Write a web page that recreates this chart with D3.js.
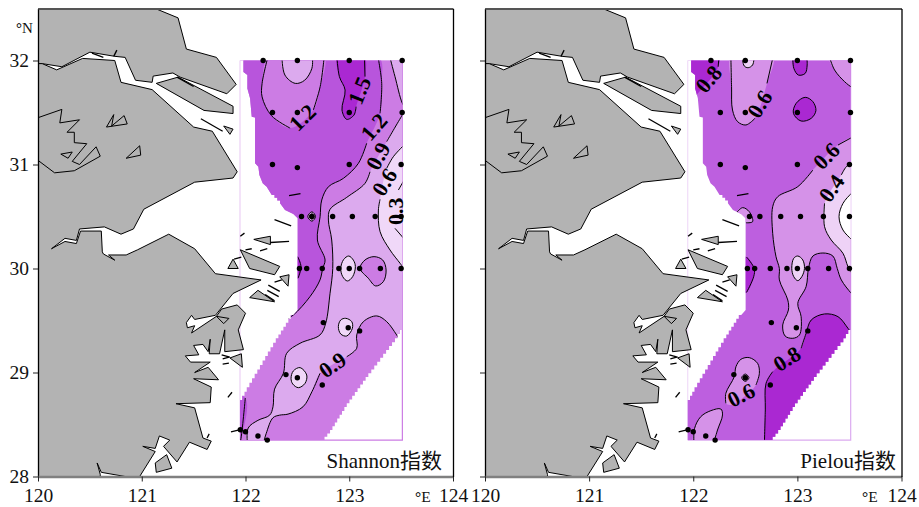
<!DOCTYPE html>
<meta charset="utf-8">
<style>
  body { margin: 0; background: #fff; }
  text { font-family: "Liberation Serif", "Noto Sans CJK SC", serif; fill: #111; }
</style>
<script src="https://d3js.org/d3.v7.min.js"></script>
<div id="my_dataviz"></div>
<script>

// tick labels
var lonTicks = [120, 121, 122, 123, 124];
var latTicks = [28, 29, 30, 31, 32];

// stations, lon / lat
var stations = [
  [122.17,32.00],[122.50,32.00],[123.00,32.00],[123.51,32.00],
  [122.26,31.50],[122.50,31.50],[123.00,31.50],[123.51,31.50],
  [122.26,31.00],[122.50,30.97],[123.00,31.00],[123.50,31.00],
  [122.54,30.50],[122.64,30.50],[122.84,30.50],[123.03,30.50],[123.25,30.50],[123.50,30.50],
  [122.52,30.00],[122.59,30.00],[122.74,30.00],[122.90,30.00],[123.00,30.00],[123.10,30.00],[123.30,30.00],[123.50,30.00],
  [122.75,29.48],[122.99,29.43],[123.10,29.40],
  [122.39,28.98],[122.50,28.95],[122.74,28.88],
  [121.95,28.45],[122.00,28.43],[122.12,28.39],[122.21,28.35]
];

// coast, lon / lat
var northLand = [[120,32.5],[121.13,32.5],[121.35,32.41],[121.43,32.11],[121.72,32.03],[121.91,31.77],[121.82,31.68],[121.37,31.84],[121.30,31.88],[121.11,31.85],[121.10,31.79],[120.94,31.81],[120.84,32.03],[120.74,32.04],[120.50,32.08],[120.23,31.94],[120.04,31.97],[120,31.97]];
var chongming = [[121.14,31.78],[121.35,31.84],[121.88,31.56],[121.88,31.49],[121.60,31.52]];
var mainLand = [[120,31.97],[120.04,31.97],[120.18,31.91],[120.43,32.02],[120.74,32.00],[120.80,31.79],[121.10,31.72],[121.50,31.36],[121.68,31.32],[121.92,30.93],[121.88,30.87],[121.51,30.83],[121.02,30.57],[120.92,30.38],[120.80,30.33],[120.64,30.40],[120.40,30.38],[120.37,30.27],[120.26,30.29],[120.13,30.19],[120.26,30.26],[120.37,30.24],[120.41,30.36],[120.61,30.36],[120.62,30.16],[120.63,30.14],[120.74,30.08],[120.68,30.13],[120.85,30.13],[120.96,30.18],[121.26,30.33],[121.51,30.19],[121.71,29.95],[122.15,29.89],[121.88,29.76],[121.71,29.55],[121.51,29.51],[121.48,29.55],[121.43,29.48],[121.44,29.43],[121.51,29.45],[121.48,29.38],[121.72,29.54],[121.84,29.52],[121.79,29.47],[121.72,29.54],[121.77,29.61],[121.92,29.65],[122.00,29.57],[121.93,29.41],[121.98,29.22],[121.80,29.20],[121.80,29.41],[121.75,29.18],[121.65,29.18],[121.66,29.32],[121.64,29.20],[121.59,29.27],[121.50,29.26],[121.55,29.17],[121.42,29.16],[121.47,29.10],[121.66,29.10],[121.51,29.00],[121.64,29.05],[121.74,28.93],[121.50,28.94],[121.67,28.86],[121.66,28.71],[121.33,28.70],[121.51,28.66],[121.59,28.37],[121.67,28.34],[121.63,28.26],[121.46,28.33],[121.34,28.14],[121.21,28.29],[121.27,28.35],[121.17,28.39],[121.13,28.27],[121.01,28.29],[121.13,28.24],[120.98,28.00],[120.84,28.00],[120.61,28.04],[120.57,28.13],[120.60,28.02],[120.60,28.00],[120,28.00]];
var taiLake = [[120,31.45],[120.23,31.53],[120.21,31.40],[120.40,31.43],[120.28,31.31],[120.35,31.31],[120.35,31.21],[120.47,31.20],[120.33,31.03],[120.40,31.00],[120.56,31.17],[120.60,31.08],[120.35,30.94],[120.16,30.92],[120,31.04]];
var smallLakes = [
  [[120.22,31.10],[120.33,31.12],[120.29,31.06]],
  [[120.66,31.36],[120.73,31.48],[120.71,31.37],[120.83,31.47],[120.86,31.39]],
  [[120.85,31.06],[120.98,31.18],[120.99,31.09]]
];
var islands = [
  [[121.79,31.37],[121.88,31.34],[121.85,31.29]],
  [[121.95,30.18],[122.33,30.02],[122.28,29.94],[122.04,30.00]],
  [[121.88,30.09],[121.93,30.00],[121.83,30.00]],
  [[122.08,30.28],[122.24,30.31],[122.24,30.23]],
  [[122.12,29.79],[122.04,29.72],[122.28,29.68]],
  [[122.33,29.92],[122.42,29.94],[122.41,29.83]],
  [[121.85,29.14],[121.96,29.18],[121.97,29.05]],
  [[121.13,28.13],[121.24,28.21],[121.29,28.08],[121.14,28.04]]
];
var reefDashes = [
  [[120.73,32.04],[120.76,32.10]],[[120.52,32.07],[120.63,32.03]],[[121.34,31.84],[121.50,31.75]],
  [[121.57,31.44],[121.78,31.32]],[[121.95,30.31],[121.99,30.34]],[[122.00,30.18],[122.06,30.19]],
  [[122.14,30.17],[122.21,30.19]],[[121.89,30.09],[121.96,30.11]],[[122.24,30.25],[122.42,30.26]],
  [[122.28,30.47],[122.44,30.41]],[[122.42,30.70],[122.53,30.72]],[[122.22,29.84],[122.33,29.78]],
  [[122.21,29.79],[122.32,29.73]],[[122.19,29.75],[122.28,29.69]],[[122.28,29.87],[122.35,29.89]],
  [[121.83,28.76],[121.87,28.81]],[[121.77,29.17],[121.84,29.15]],[[121.78,29.13],[121.85,29.15]],
  [[121.78,29.08],[121.84,29.09]],[[121.63,28.37],[121.65,28.41]],[[121.86,28.43],[121.95,28.45]]
];

// outline of the gridded area
var maskEdge = [[121.98,32.0],[121.98,31.89],[122.018,31.86],[122.018,31.73],[122.044,31.636],[122.06,31.46],[122.092,31.453],[122.092,31.011],[122.124,30.979],[122.134,30.899],[122.166,30.819],[122.204,30.787],[122.253,30.707],[122.333,30.627],[122.381,30.562],[122.461,30.524],[122.503,30.482],[122.503,29.601],[122.461,29.553],[122.317,29.329],[122.012,28.816],[121.947,28.697],[121.947,28.35],[122.735,28.35],[122.815,28.447],[122.976,28.704],[123.184,28.992],[123.441,29.329],[123.512,29.45],[123.512,32.0]];
var gridBox = [[121.947,32.0],[121.947,28.35],[123.512,28.35],[123.512,32.0]];

// Shannon contour lines
var sRingA = [[122.22,32.05],[122.16,31.78],[122.16,31.65],[122.25,31.47],[122.43,31.35]];
var sRingB = [[122.654,31.524],[122.72,31.75],[122.76,32.05]];
var sLobe = [[122.35,32.05],[122.38,31.86],[122.48,31.78],[122.57,31.81],[122.64,31.925],[122.645,32.05]];
var s15a = [[122.88,32.05],[122.905,31.845],[122.96,31.716],[122.93,31.524],[122.976,31.434],[123.046,31.476],[123.066,31.556]];
var s15b = [[123.152,31.845],[123.146,32.05]];
var s12a = [[123.274,32.05],[123.313,31.78],[123.297,31.492]];
var s12b = [[123.168,31.204],[123.088,31.011],[122.944,30.867],[122.8,30.787],[122.735,30.659],[122.719,30.498],[122.693,30.274],[122.767,30.082],[122.744,30.0],[122.718,29.89],[122.622,29.73],[122.461,29.553],[122.333,29.473]];
var s09top = [[123.387,32.05],[123.441,31.845],[123.512,31.588],[123.554,31.524]];
var s09a = [[123.554,31.54],[123.512,31.476],[123.361,31.22]];
var s09b = [[123.2,30.93],[123.152,30.819],[122.976,30.684],[122.815,30.569],[122.799,30.466],[122.831,30.274],[122.841,30.0],[122.815,29.762],[122.773,29.473],[122.718,29.361],[122.526,29.281],[122.397,29.185],[122.365,28.992],[122.28,28.84],[122.265,28.67],[122.233,28.59],[122.12,28.54],[122.026,28.466],[122.02,28.30]];
var s09blob = [[122.168,28.30],[122.2,28.415],[122.265,28.565],[122.33,28.59],[122.41,28.60],[122.554,28.67],[122.64,28.815],[122.718,28.992]];
var s09east = [[122.976,29.152],[123.072,29.233],[123.072,29.361],[123.136,29.489],[123.265,29.544],[123.361,29.489],[123.457,29.361],[123.506,29.281]];
var s06a = [[123.538,31.197],[123.425,31.075],[123.361,30.963]];
var s06b = [[123.297,30.665],[123.281,30.562],[123.297,30.354],[123.393,30.178],[123.49,30.05],[123.538,29.986]];
var s03a = [[123.538,30.867],[123.474,30.755]];
var s03b = [[123.441,30.386],[123.538,30.274]];
var sStrip = [[121.998,28.755],[121.954,28.35],[121.94,28.30]];
var sDarkEdge = [[122.503,30.114],[122.535,30.018],[122.506,29.906]];
var sOvalA = [[122.918,30.0],[122.945,30.085],[122.995,30.12],[123.04,30.08],[123.059,30.018],[123.033,29.922],[122.982,29.88],[122.937,29.922]];
var sOvalB = [[122.895,29.441],[122.918,29.505],[122.966,29.521],[123.024,29.489],[123.03,29.425],[122.976,29.351],[122.918,29.37]];
var sOvalC = [[122.439,28.944],[122.461,29.015],[122.526,29.047],[122.59,28.976],[122.574,28.896],[122.51,28.854],[122.455,28.89]];
var sPatch = [[123.104,30.002],[123.152,30.082],[123.239,30.114],[123.322,30.082],[123.355,29.986],[123.329,29.874],[123.255,29.832],[123.184,29.906]];
var sRingOuter = [[122.60,30.50],[122.64,30.545],[122.675,30.50],[122.64,30.455]];
var sRingInner = [[122.615,30.50],[122.64,30.525],[122.662,30.50],[122.64,30.475]];

// Pielou contour lines
var p08a = [[122.249,32.05],[122.239,31.94]];
var p08b = [[122.03,31.668],[122.0,31.64]];
var pLobeA = [[122.361,32.05],[122.368,31.748],[122.377,31.524],[122.426,31.412],[122.506,31.38],[122.593,31.444]];
var pLobeB = [[122.708,31.78],[122.77,32.05]];
var pTop = [[122.467,32.05],[122.49,31.947],[122.528,31.931],[122.57,31.957],[122.586,32.05]];
var pDarkA = [[122.956,32.05],[122.966,31.925],[123.01,31.86],[123.075,31.876],[123.094,31.957],[123.088,32.05]];
var pDarkB = [[122.962,31.492],[122.988,31.588],[123.075,31.646],[123.149,31.604],[123.178,31.518],[123.133,31.444],[123.036,31.418]];
var pNE = [[123.303,32.05],[123.357,31.909],[123.454,31.796],[123.524,31.742],[123.58,31.72]];
var p06a = [[123.566,31.284],[123.39,31.187]];
var p06b = [[123.149,30.947],[123.004,30.787],[122.811,30.69],[122.763,30.594],[122.763,30.338],[122.795,30.113],[122.827,30.0],[122.827,29.89],[122.908,29.697],[122.914,29.601],[122.859,29.457],[122.882,29.351],[122.956,29.329],[123.02,29.361],[123.036,29.537],[123.004,29.665],[123.084,29.826],[123.107,30.002],[123.149,30.12],[123.245,30.149],[123.341,30.12],[123.383,30.0],[123.422,29.89],[123.518,29.761],[123.582,29.697]];
var p04a = [[123.6,31.05],[123.518,31.011],[123.47,30.979],[123.422,30.899]];
var p04b = [[123.261,30.626],[123.261,30.402],[123.325,30.274],[123.438,30.146],[123.486,30.018],[123.534,29.937]];
var p02 = [[123.6,30.80],[123.525,30.729],[123.438,30.626],[123.4,30.498],[123.438,30.37],[123.525,30.274],[123.6,30.20]];
var pOval = [[122.946,30.002],[122.965,30.098],[123.004,30.12],[123.052,30.082],[123.068,30.0],[123.043,29.922],[123.004,29.883],[122.965,29.922]];
var pBlobLine = [[122.008,28.30],[122.012,28.46],[122.072,28.575],[122.169,28.633],[122.265,28.649],[122.281,28.592],[122.233,28.447],[122.19,28.30]];
var pMidLine = [[122.313,28.704],[122.313,28.8],[122.394,28.96],[122.41,29.056],[122.458,29.127],[122.538,29.143],[122.618,29.088],[122.635,28.992],[122.602,28.88]];
var pMidGap = [[122.49,28.768],[122.36,28.688]];
var pShoreLoop = [[122.41,30.53],[122.474,30.585],[122.538,30.546],[122.57,30.45],[122.506,30.44]];
var pDarkEdge = [[122.512,30.11],[122.586,30.0],[122.58,29.92],[122.512,29.77]];
var pSE_a = [[122.683,28.30],[122.692,28.64],[122.699,28.896],[122.763,29.008]];
var pSE_b = [[123.036,29.233],[123.084,29.377],[123.133,29.505],[123.261,29.563],[123.39,29.537],[123.486,29.425],[123.566,29.313]];
var pRingOuter = [[122.465,28.95],[122.50,28.985],[122.535,28.95],[122.50,28.915]];
var pRingInner = [[122.48,28.95],[122.50,28.97],[122.52,28.95],[122.50,28.93]];

// contour labels: text, lon, lat, angle
var shannonLabels = [["1.2",122.55,31.45,-45],["1.5",123.10,31.71,-68],["1.2",123.24,31.36,-49],["0.9",123.28,31.08,-62],["0.6",123.34,30.83,-58],["0.3",123.45,30.55,-90],["0.9",122.84,29.07,-35]];
var pielouLabels = [["0.8",122.15,31.82,-50],["0.6",122.64,31.58,-58],["0.6",123.28,31.08,-45],["0.4",123.33,30.77,-55],["0.6",122.46,28.78,-27],["0.8",122.90,29.13,-32]];

// band colours, dark to light
var shannonColors = {top: "#aa28d2", high: "#b855dc", mid: "#cc7ce4", low: "#dcaaee", least: "#f0d8f8"};
var pielouColors = {top: "#aa28d2", mid: "#bd5fdf", low: "#d592e8", least: "#eed2f6", none: "#ffffff"};

// filled bands are built from the lines above, with a few points off the grid
var shannonBands = [
  [shannonColors.high, [[121.7,32.1]].concat(s12a, s12b, [[121.7,29.47]])],
  [shannonColors.mid, sRingA.concat(sRingB, [[122.5,32.15]])],
  [shannonColors.low, sLobe.concat([[122.5,32.15]])],
  [shannonColors.top, s15a.concat(s15b, [[123.0,32.15]])],
  [shannonColors.high, sStrip.concat([[121.7,28.3],[121.7,28.8]])],
  [shannonColors.top, sDarkEdge.concat([[122.4,29.9],[122.4,30.12]])],
  [shannonColors.low, s09top.concat([[123.7,31.5],[123.7,32.15],[123.4,32.15]])],
  [shannonColors.low, s09a.concat(s09b, s09blob, s09east, [[123.7,29.28],[123.7,31.54]])],
  [shannonColors.mid, sPatch],
  [shannonColors.least, s06a.concat(s06b, [[123.75,29.98],[123.75,31.2]])],
  [shannonColors.least, sOvalA],
  [shannonColors.least, sOvalB],
  [shannonColors.least, sOvalC],
  [shannonColors.low, sRingOuter]
];
var shannonOpen = [sRingA, sRingB, sLobe, s15a, s15b, s12a, s12b, s09top, s09a, s09b, s09blob, s09east, s06a, s06b, s03a, s03b, sStrip, sDarkEdge];
var shannonClosed = [sOvalA, sOvalB, sOvalC, sPatch, sRingOuter, sRingInner];

var pielouBands = [
  [pielouColors.top, p08a.concat([[122.185,31.845],[122.072,31.716]], p08b, [[121.7,31.6],[121.7,32.15]])],
  [pielouColors.low, pLobeA.concat(pLobeB, [[122.55,32.15]])],
  [pielouColors.least, pTop.concat([[122.52,32.15]])],
  [pielouColors.top, pDarkA.concat([[123.02,32.15]])],
  [pielouColors.top, pDarkB],
  [pielouColors.low, pNE.concat([[123.7,32.15]])],
  [pielouColors.low, p06a.concat(p06b, [[123.75,29.7],[123.75,31.3]])],
  [pielouColors.least, p04a.concat(p04b, [[123.75,29.9],[123.75,31.05]])],
  [pielouColors.none, p02.concat([[123.75,30.5]])],
  [pielouColors.least, pOval],
  [pielouColors.low, pBlobLine],
  [pielouColors.low, pMidLine.concat(pMidGap)],
  [pielouColors.low, pShoreLoop],
  [pielouColors.top, pDarkEdge.concat([[122.4,29.77],[122.4,30.11]])],
  [pielouColors.top, pSE_a.concat(pSE_b, [[123.75,29.3],[123.75,28.2],[122.68,28.2]])]
];
var pielouOpen = [p08a, p08b, pLobeA, pLobeB, pTop, pDarkA, pNE, p06a, p06b, p04a, p04b, p02, pBlobLine, pMidLine, pShoreLoop, pDarkEdge, pSE_a, pSE_b];
var pielouClosed = [pDarkB, pOval, pRingOuter, pRingInner];

var svg = d3.select("#my_dataviz")
  .append("svg")
    .attr("width", 919)
    .attr("height", 507);

// turn slanted edges of the grid outline into cell steps
function stairs(pts) {
  var out = [];
  pts.forEach(function(p, i) {
    var q = pts[(i + 1) % pts.length];
    var dx = q[0] - p[0], dy = q[1] - p[1];
    out.push(p);
    if (Math.abs(dx) > 0.06 && Math.abs(dy) > 0.06) {
      var n = Math.ceil(Math.hypot(dx, dy) / 0.05);
      d3.range(1, n).forEach(function(k) {
        out.push([p[0] + dx * k / n, p[1] + dy * (k - 1) / n]);
        out.push([p[0] + dx * k / n, p[1] + dy * k / n]);
      });
      out.push([q[0], p[1] + dy * (n - 1) / n]);
    }
  });
  return out;
}

function drawPanel(id, left, right, opt) {
  var x = d3.scaleLinear().domain([120, 124]).range([left, right]);
  var y = d3.scaleLinear().domain([28, 32.5]).range([476.5, 8.5]);
  var g = svg.append("g");

  var straight = d3.line().x(function(d) { return x(d[0]); }).y(function(d) { return y(d[1]); });
  var smooth = d3.line().x(function(d) { return x(d[0]); }).y(function(d) { return y(d[1]); }).curve(d3.curveCatmullRom.alpha(0.5));
  var smoothClosed = d3.line().x(function(d) { return x(d[0]); }).y(function(d) { return y(d[1]); }).curve(d3.curveCatmullRomClosed.alpha(0.5));

  var defs = g.append("defs");
  defs.append("clipPath").attr("id", "mask" + id)
    .append("path").attr("d", straight(stairs(maskEdge)) + "Z");
  defs.append("clipPath").attr("id", "plot" + id)
    .append("rect").attr("x", left).attr("y", 8.5).attr("width", right - left).attr("height", 468);

  // grid box, pale on the west side
  g.append("path").attr("d", straight([gridBox[1], gridBox[2], gridBox[3]]))
    .attr("fill", "none").attr("stroke", opt.boxEdge).attr("stroke-width", 1.2);
  g.append("path").attr("d", straight([gridBox[0], gridBox[1]]))
    .attr("fill", "none").attr("stroke", opt.boxPale).attr("stroke-width", 1.2);
  g.append("path").attr("d", straight([gridBox[0], gridBox[3]]))
    .attr("fill", "none").attr("stroke", opt.boxPale).attr("stroke-width", 1.2);

  // bands
  var bands = g.append("g").attr("clip-path", "url(#mask" + id + ")");
  bands.append("rect").attr("x", left).attr("y", 8.5).attr("width", right - left).attr("height", 468).attr("fill", opt.base);
  bands.selectAll("path.band")
    .data(opt.bands)
    .enter()
    .append("path")
      .attr("class", "band")
      .attr("d", function(d) { return smoothClosed(d[1]); })
      .attr("fill", function(d) { return d[0]; });
  bands.selectAll("path.open")
    .data(opt.open)
    .enter()
    .append("path")
      .attr("class", "open")
      .attr("d", smooth)
      .attr("fill", "none")
      .attr("stroke", "#000")
      .attr("stroke-width", 1);
  bands.selectAll("path.closed")
    .data(opt.closed)
    .enter()
    .append("path")
      .attr("class", "closed")
      .attr("d", smoothClosed)
      .attr("fill", "none")
      .attr("stroke", "#000")
      .attr("stroke-width", 1);

  // land
  var land = g.append("g").attr("clip-path", "url(#plot" + id + ")");
  land.selectAll("path.land")
    .data([northLand, mainLand, chongming].concat([taiLake], smallLakes, islands))
    .enter()
    .append("path")
      .attr("class", "land")
      .attr("d", function(d) { return straight(d) + "Z"; })
      .attr("fill", "#b3b3b3")
      .attr("stroke", "#000")
      .attr("stroke-width", 1)
      .attr("stroke-linejoin", "miter");
  land.selectAll("path.dash")
    .data(reefDashes)
    .enter()
    .append("path")
      .attr("class", "dash")
      .attr("d", straight)
      .attr("stroke", "#000")
      .attr("stroke-width", 1.3);

  // stations
  g.selectAll("circle")
    .data(stations)
    .enter()
    .append("circle")
      .attr("cx", function(d) { return x(d[0]); })
      .attr("cy", function(d) { return y(d[1]); })
      .attr("r", 2.7)
      .attr("fill", "#000");

  // contour labels
  g.selectAll("text.level")
    .data(opt.labels)
    .enter()
    .append("text")
      .attr("class", "level")
      .attr("transform", function(d) { return "translate(" + x(d[1]) + "," + y(d[2]) + ") rotate(" + d[3] + ")"; })
      .attr("text-anchor", "middle")
      .attr("dy", "0.33em")
      .style("font-size", "22px")
      .style("font-weight", "bold")
      .style("fill", "#000")
      .text(function(d) { return d[0]; });

  // axes
  var axLeft = g.append("g").attr("transform", "translate(" + left + ",0)")
    .call(d3.axisLeft(y).tickValues(latTicks).tickSize(5).tickSizeOuter(0).tickPadding(4).tickFormat(opt.showLat ? d3.format("d") : ""));
  var axBottom = g.append("g").attr("transform", "translate(0,476.5)")
    .call(d3.axisBottom(x).tickValues(lonTicks).tickSize(5).tickSizeOuter(0).tickPadding(7).tickFormat(d3.format("d")));
  var axTop = g.append("g").attr("transform", "translate(0,8.5)")
    .call(d3.axisTop(x).tickValues([]).tickSizeOuter(0));
  var axRight = g.append("g").attr("transform", "translate(" + right + ",0)")
    .call(d3.axisRight(y).tickValues([]).tickSizeOuter(0));

  [axLeft, axBottom].forEach(function(a) {
    a.selectAll("text").style("font-size", "19.5px").style("font-family", "'Liberation Serif'");
    a.selectAll(".tick line").attr("stroke", "#222");
  });
  axBottom.select(".domain").attr("stroke", "#808080").attr("stroke-width", 2.4);
  axTop.select(".domain").attr("stroke", "#555").attr("stroke-width", 2);
  axLeft.select(".domain").attr("stroke", "#000").attr("stroke-width", 1.3);
  axRight.select(".domain").attr("stroke", "#000").attr("stroke-width", 1.3);

  var east = g.append("text").attr("x", left + 377).attr("y", 502).style("font-size", "15.5px");
  east.append("tspan").style("font-weight", "bold").text("°");
  east.append("tspan").text("E");
  if (opt.showLat) {
    var north = g.append("text").attr("x", left - 22).attr("y", 33).style("font-size", "15px");
    north.append("tspan").style("font-weight", "bold").text("°");
    north.append("tspan").text("N");
  }
  g.append("text").attr("x", opt.titleEnd).attr("y", 468).attr("text-anchor", "end")
    .style("font-size", "21px").text(opt.title);
}

drawPanel("a", 38, 453, {
  base: shannonColors.mid, bands: shannonBands, open: shannonOpen, closed: shannonClosed,
  labels: shannonLabels, showLat: true, title: "Shannon指数", titleEnd: 442,
  boxEdge: "#cc7ce4", boxPale: "#ecd0f5"
});
drawPanel("b", 485, 901.5, {
  base: pielouColors.mid, bands: pielouBands, open: pielouOpen, closed: pielouClosed,
  labels: pielouLabels, showLat: false, title: "Pielou指数", titleEnd: 896,
  boxEdge: "#dcaaf0", boxPale: "#f0dcf8"
});

</script>
